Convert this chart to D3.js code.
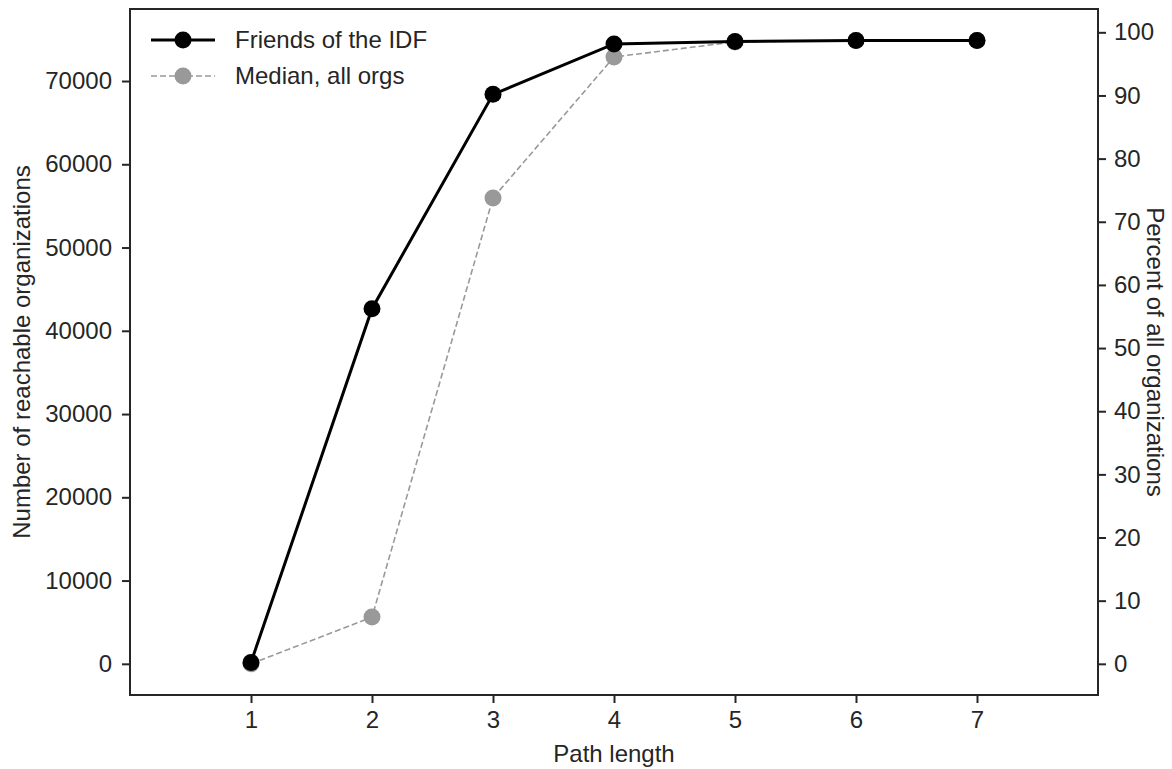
<!DOCTYPE html>
<html>
<head>
<meta charset="utf-8">
<script src="https://cdn.jsdelivr.net/npm/d3@7"></script>
<style>
  body { margin: 0; background: #fff; }
  text { font-family: "Liberation Sans", Arial, sans-serif; fill: #262626; }
</style>
</head>
<body>
<div id="chart"></div>
<script>
// data
const pathLengths = [1, 2, 3, 4, 5, 6, 7];
const friendsIdf = [160, 42650, 68400, 74450, 74760, 74870, 74880];
const medianAll = [0, 5610, 55950, 72890, 74700, 74870, 74880];
const totalOrgs = 75850;
const leftTicks = [0, 10000, 20000, 30000, 40000, 50000, 60000, 70000];
const rightTicks = [0, 10, 20, 30, 40, 50, 60, 70, 80, 90, 100];
const seriesNames = ['Friends of the IDF', 'Median, all orgs'];

const width = 1172, height = 769;
const margin = { top: 9, right: 74, bottom: 74, left: 130 };
const axisColor = '#262626';
const fontSize = '24px';

const svg = d3.select('#chart')
    .append('svg')
    .attr('width', width)
    .attr('height', height);

const x = d3.scaleLinear()
    .domain([0, 8])
    .range([margin.left, width - margin.right]);

const yMin = -3745, yMax = 78650;
const y = d3.scaleLinear()
    .domain([yMin, yMax])
    .range([height - margin.bottom, margin.top]);

const y2 = d3.scaleLinear()
    .domain([yMin / totalOrgs * 100, yMax / totalOrgs * 100])
    .range([height - margin.bottom, margin.top]);

function styleAxis(g) {
    g.selectAll('.domain').remove();
    g.selectAll('line').attr('stroke', axisColor).attr('stroke-width', 2);
    g.selectAll('text').style('font-size', fontSize).attr('fill', axisColor);
}

svg.append('g')
    .attr('transform', 'translate(0,' + (height - margin.bottom) + ')')
    .call(d3.axisBottom(x).tickValues(pathLengths).tickSize(8).tickPadding(8))
    .call(styleAxis);

svg.append('g')
    .attr('transform', 'translate(' + margin.left + ',0)')
    .call(d3.axisLeft(y).tickValues(leftTicks).tickSize(8).tickPadding(10).tickFormat(d3.format('d')))
    .call(styleAxis);

svg.append('g')
    .attr('transform', 'translate(' + (width - margin.right) + ',0)')
    .call(d3.axisRight(y2).tickValues(rightTicks).tickSize(8).tickPadding(8))
    .call(styleAxis);

// frame
svg.append('rect')
    .attr('x', margin.left)
    .attr('y', margin.top)
    .attr('width', width - margin.left - margin.right)
    .attr('height', height - margin.top - margin.bottom)
    .attr('fill', 'none')
    .attr('stroke', axisColor)
    .attr('stroke-width', 2);

const line = d3.line()
    .x((d, i) => x(pathLengths[i]))
    .y(d => y(d));

// median series (behind)
svg.append('path')
    .datum(medianAll)
    .attr('fill', 'none')
    .attr('stroke', '#999999')
    .attr('stroke-width', 1.6)
    .attr('stroke-dasharray', '6,3')
    .attr('d', line);

svg.selectAll('.mdot')
    .data(medianAll)
    .join('circle')
    .attr('class', 'mdot')
    .attr('cx', (d, i) => x(pathLengths[i]))
    .attr('cy', d => y(d))
    .attr('r', 8.5)
    .attr('fill', '#999999');

svg.append('path')
    .datum(friendsIdf)
    .attr('fill', 'none')
    .attr('stroke', '#000')
    .attr('stroke-width', 3)
    .attr('d', line);

svg.selectAll('.fdot')
    .data(friendsIdf)
    .join('circle')
    .attr('class', 'fdot')
    .attr('cx', (d, i) => x(pathLengths[i]))
    .attr('cy', d => y(d))
    .attr('r', 8.5)
    .attr('fill', '#000');

// legend
const legend = svg.append('g').attr('transform', 'translate(151,40)');
const legendStyles = [
    { color: '#000', width: 3, dash: null },
    { color: '#999999', width: 1.6, dash: '6,3' }
];
seriesNames.forEach((name, i) => {
    const row = legend.append('g').attr('transform', 'translate(0,' + (i * 36) + ')');
    row.append('line')
        .attr('x1', 0).attr('x2', 64)
        .attr('stroke', legendStyles[i].color)
        .attr('stroke-width', legendStyles[i].width)
        .attr('stroke-dasharray', legendStyles[i].dash);
    row.append('circle')
        .attr('cx', 32).attr('r', 8.5)
        .attr('fill', legendStyles[i].color);
    row.append('text')
        .attr('x', 84)
        .attr('dy', '0.35em')
        .style('font-size', fontSize)
        .text(name);
});

// axis labels
svg.append('text')
    .attr('x', x(4))
    .attr('y', 762)
    .attr('text-anchor', 'middle')
    .style('font-size', fontSize)
    .text('Path length');

svg.append('text')
    .attr('transform', 'translate(30,' + ((margin.top + height - margin.bottom) / 2) + ') rotate(-90)')
    .attr('text-anchor', 'middle')
    .style('font-size', fontSize)
    .text('Number of reachable organizations');

svg.append('text')
    .attr('transform', 'translate(1147,' + ((margin.top + height - margin.bottom) / 2) + ') rotate(90)')
    .attr('text-anchor', 'middle')
    .style('font-size', fontSize)
    .text('Percent of all organizations');
</script>
</body>
</html>
